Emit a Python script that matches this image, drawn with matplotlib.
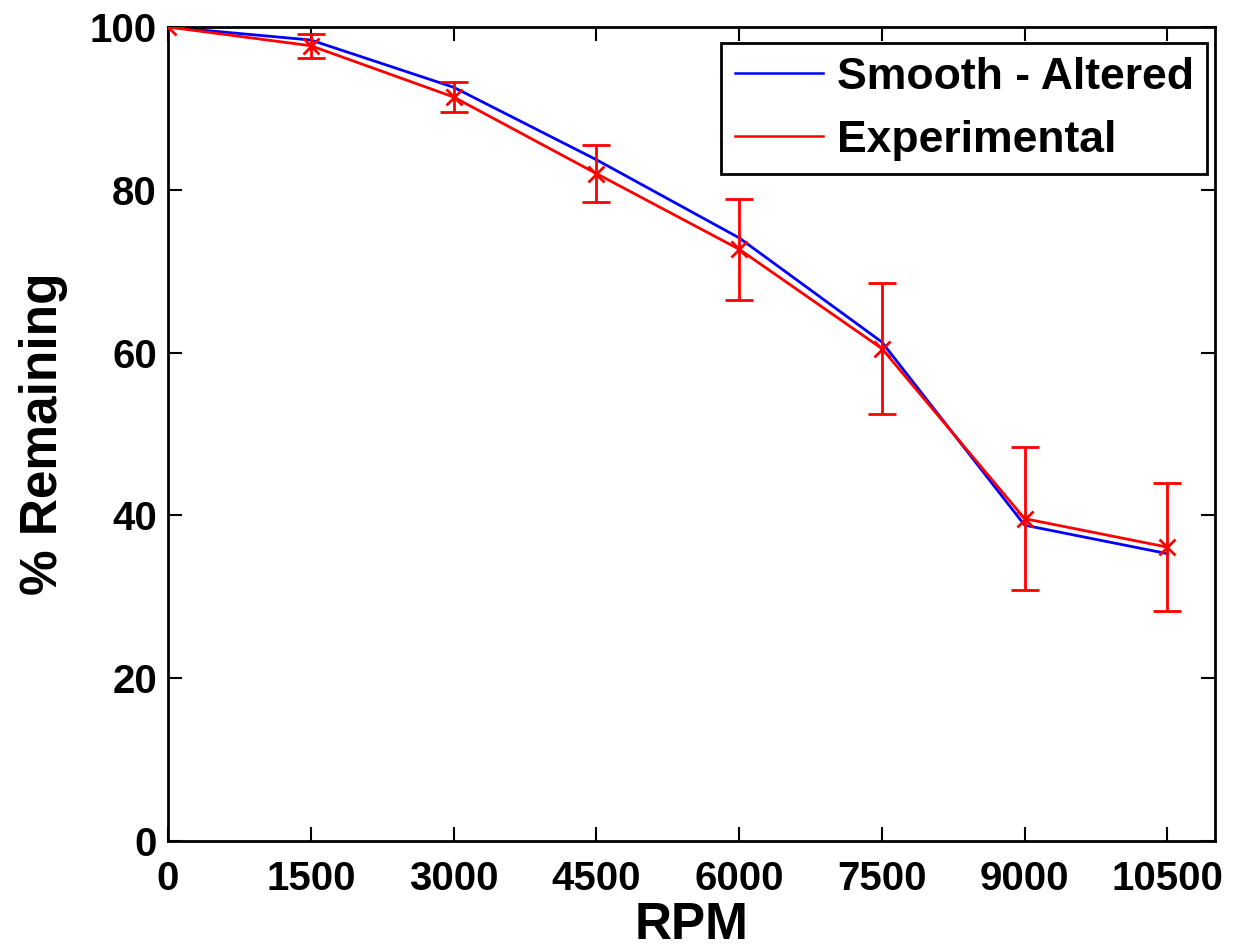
import matplotlib
matplotlib.use("Agg")
import matplotlib.pyplot as plt
from matplotlib.lines import Line2D

# values
rpm = [0, 1500, 3000, 4500, 6000, 7500, 9000, 10500]
smooth_altered = [100.0, 98.4, 92.6, 83.7, 74.1, 61.3, 38.8, 35.3]
experimental = [100.0, 97.7, 91.4, 82.0, 72.7, 60.5, 39.6, 36.1]
exp_error = [0.0, 1.5, 1.8, 3.5, 6.2, 8.0, 8.8, 7.9]

x_ticks = [0, 1500, 3000, 4500, 6000, 7500, 9000, 10500]
y_ticks = [0, 20, 40, 60, 80, 100]

plt.rcParams['font.family'] = ['Liberation Sans', 'DejaVu Sans']
plt.rcParams['font.weight'] = 'bold'

fig = plt.figure(figsize=(12.36, 9.52), dpi=100)
ax = fig.add_axes([168 / 1236, 1 - 841 / 952, (1215 - 168) / 1236, (841 - 27) / 952])

ax.plot(rpm, smooth_altered, color='#0000ff', lw=2, zorder=2)
ax.errorbar(rpm, experimental, yerr=exp_error, color='#ff0000', lw=2,
            marker='x', markersize=11, markeredgewidth=2,
            elinewidth=2, capsize=10, capthick=2, zorder=3)

ax.set_xlim(0, 11000)
ax.set_ylim(0, 100)
ax.set_xticks(x_ticks)
ax.set_yticks(y_ticks)
ax.tick_params(direction='in', length=10, width=1.5, top=True, right=True,
               labelsize=29, pad=8)
ax.tick_params(axis='x', pad=14)
for lab in ax.get_xticklabels() + ax.get_yticklabels():
    lab.set_fontweight('bold')
for s in ax.spines.values():
    s.set_linewidth(2)

ax.set_xlabel('RPM', fontsize=37, fontweight='bold', labelpad=2)
ax.set_ylabel('% Remaining', fontsize=37, fontweight='bold', labelpad=16)

# legend shows plain lines, no markers
handles = [Line2D([], [], color='#0000ff', lw=1.8),
           Line2D([], [], color='#ff0000', lw=1.8)]
leg = ax.legend(handles, ['Smooth - Altered', 'Experimental'],
                loc='upper right', bbox_to_anchor=(0.9925, 0.98),
                prop={'size': 32, 'weight': 'bold'}, frameon=True,
                fancybox=False, edgecolor='black', framealpha=1,
                handlelength=2.0, handletextpad=0.3, borderpad=0.3,
                labelspacing=0.5, borderaxespad=0)
leg.get_frame().set_linewidth(2)

fig.savefig('out.png', dpi=100)
